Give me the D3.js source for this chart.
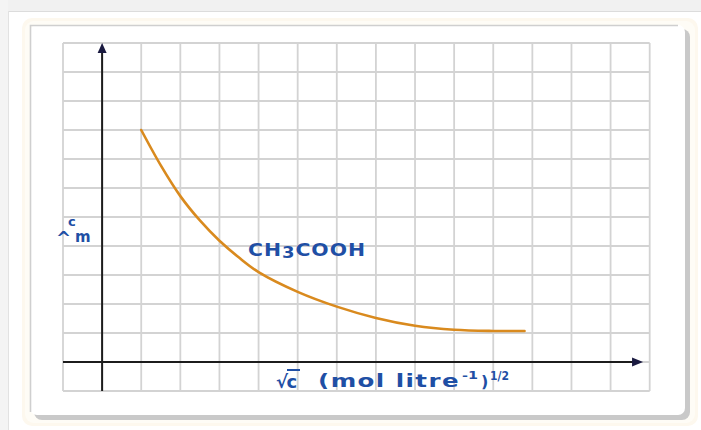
<!DOCTYPE html>
<html>
<head>
<meta charset="utf-8">
<script src="https://cdn.jsdelivr.net/npm/d3@7"></script>
<style>
  html, body { margin: 0; padding: 0; background: #ffffff; }
  svg { display: block; }
</style>
</head>
<body>
<svg id="chart" width="701" height="430"></svg>
<script>
// ---- data (grid units: x from the y-axis, y from the x-axis) ----
const sqrtC = [1, 1.5, 2, 2.5, 3, 3.5, 4, 5, 6, 7, 8, 9, 10, 10.8];
const lambdaM = [8.0, 6.78, 5.72, 4.88, 4.18, 3.6, 3.1, 2.42, 1.91, 1.52, 1.25, 1.11, 1.07, 1.07];
const seriesName = ["CH", "3", "COOH"];
const gridX = d3.range(-1, 15);   // vertical grid lines
const gridY = d3.range(-1, 12);   // horizontal grid lines
const xAxisLabel = ["√c", "(mol litre", "-1", ")", "1/2"];
const yAxisLabel = ["^", "c", "m"];

const svg = d3.select("#chart");
const W = 701, H = 430;
const blue = "#1f4fa5";
const FONT = "DejaVu Sans, Verdana, sans-serif";

// ---- page / card frame ----
svg.append("rect").attr("x", 0).attr("y", 0).attr("width", W).attr("height", H).attr("fill", "#ffffff");
svg.append("rect").attr("x", 0).attr("y", 0).attr("width", W).attr("height", 11).attr("fill", "#f1f1f1");
svg.append("rect").attr("x", 0).attr("y", 0).attr("width", 8).attr("height", H).attr("fill", "#f4f4f4");
svg.append("line").attr("x1", 8).attr("x2", W).attr("y1", 11.5).attr("y2", 11.5).attr("stroke", "#dcdcdc").attr("stroke-width", 1);
svg.append("line").attr("x1", 8.5).attr("x2", 8.5).attr("y1", 11).attr("y2", H).attr("stroke", "#e2e2e2").attr("stroke-width", 1);

// cream glow
svg.append("rect").attr("x", 22).attr("y", 18).attr("width", 676).attr("height", 408)
  .attr("rx", 10).attr("fill", "#fdf8ee");
svg.append("rect").attr("x", 25).attr("y", 21).attr("width", 670).attr("height", 402)
  .attr("rx", 9).attr("fill", "#fefcf6");
// shadow
svg.append("rect").attr("x", 34).attr("y", 29).attr("width", 656).attr("height", 391)
  .attr("rx", 8).attr("fill", "#c9c9c9");
// card
svg.append("rect").attr("x", 30).attr("y", 25).attr("width", 655).attr("height", 390)
  .attr("rx", 7).attr("fill", "#ffffff");
svg.append("path").attr("d", "M30.5,412 L30.5,25.5 L678,25.5")
  .attr("fill", "none").attr("stroke", "#cfcfcf").attr("stroke-width", 1.6);

// ---- scales ----
const x = d3.scaleLinear().domain([-1, 14]).range([63, 649.7]);
const y = d3.scaleLinear().domain([-1, 11]).range([391, 43]);

// ---- grid ----
const g = svg.append("g");
g.selectAll("line.v").data(gridX).join("line").attr("class", "v")
  .attr("x1", d => x(d)).attr("x2", d => x(d))
  .attr("y1", y(-1)).attr("y2", y(11))
  .attr("stroke", "#d3d3d3").attr("stroke-width", 1.8);
g.selectAll("line.h").data(gridY).join("line").attr("class", "h")
  .attr("y1", d => y(d)).attr("y2", d => y(d))
  .attr("x1", x(-1)).attr("x2", x(14))
  .attr("stroke", "#d3d3d3").attr("stroke-width", 1.8);

// ---- axes with arrows ----
const axisCol = "#1c1c1c";
svg.append("line").attr("x1", x(0)).attr("x2", x(0)).attr("y1", y(-1)).attr("y2", y(10.7))
  .attr("stroke", axisCol).attr("stroke-width", 2);
svg.append("path")
  .attr("d", `M${x(0)},${y(11)} L${x(0) - 4.5},${y(11) + 10} L${x(0) + 4.5},${y(11) + 10} Z`)
  .attr("fill", "#1a1a40");
const xEnd = 13.83;
svg.append("line").attr("x1", x(-1)).attr("x2", x(xEnd) - 6).attr("y1", y(0)).attr("y2", y(0))
  .attr("stroke", axisCol).attr("stroke-width", 2);
svg.append("path")
  .attr("d", `M${x(xEnd)},${y(0)} L${x(xEnd) - 11},${y(0) - 4.5} L${x(xEnd) - 11},${y(0) + 4.5} Z`)
  .attr("fill", "#1a1a40");

// ---- curve ----
const pts = sqrtC.map((v, i) => [v, lambdaM[i]]);
const line = d3.line().x(d => x(d[0])).y(d => y(d[1])).curve(d3.curveCatmullRom.alpha(0.5));
svg.append("path").datum(pts).attr("d", line)
  .attr("fill", "none").attr("stroke", "#d98a1e").attr("stroke-width", 2.6)
  .attr("stroke-linecap", "round");

// ---- series label ----
const lblG = svg.append("g").attr("transform", "translate(248,256) scale(1.2,1)");
const lbl = lblG.append("text").attr("x", 0).attr("y", 0)
  .attr("font-family", FONT).attr("font-weight", "bold")
  .attr("font-size", 17).attr("fill", blue).attr("letter-spacing", 0.8);
lbl.append("tspan").text(seriesName[0]);
lbl.append("tspan").attr("font-size", 15).attr("dy", 1.5).text(seriesName[1]);
lbl.append("tspan").attr("dy", -1.5).text(seriesName[2]);

// ---- y-axis label  (Λ_m^c) ----
const ylab = svg.append("g").attr("font-family", FONT)
  .attr("font-weight", "bold").attr("fill", blue);
ylab.append("text").attr("x", 56).attr("y", 244).attr("font-size", 18).text(yAxisLabel[0]);
ylab.append("text").attr("x", 68).attr("y", 226).attr("font-size", 13).text(yAxisLabel[1]);
ylab.append("text").attr("x", 75).attr("y", 242).attr("font-size", 15).text(yAxisLabel[2]);

// ---- x-axis label ----
const xl = svg.append("g").attr("font-family", FONT)
  .attr("font-weight", "bold").attr("fill", blue);
xl.append("text").attr("x", 276).attr("y", 388).attr("font-size", 18).attr("letter-spacing", -1.5)
  .text(xAxisLabel[0]);
xl.append("line").attr("x1", 287).attr("x2", 300).attr("y1", 370).attr("y2", 370)
  .attr("stroke", blue).attr("stroke-width", 2);
xl.append("text").attr("x", 318).attr("y", 387).attr("font-size", 17).attr("letter-spacing", 1)
  .attr("textLength", 142).attr("lengthAdjust", "spacingAndGlyphs").text(xAxisLabel[1]);
xl.append("text").attr("x", 462).attr("y", 379).attr("font-size", 11)
  .attr("textLength", 16).attr("lengthAdjust", "spacingAndGlyphs").text(xAxisLabel[2]);
xl.append("text").attr("x", 481).attr("y", 387).attr("font-size", 16).text(xAxisLabel[3]);
xl.append("text").attr("x", 490).attr("y", 380).attr("font-size", 12)
  .attr("textLength", 19).attr("lengthAdjust", "spacingAndGlyphs").text(xAxisLabel[4]);
</script>
</body>
</html>
